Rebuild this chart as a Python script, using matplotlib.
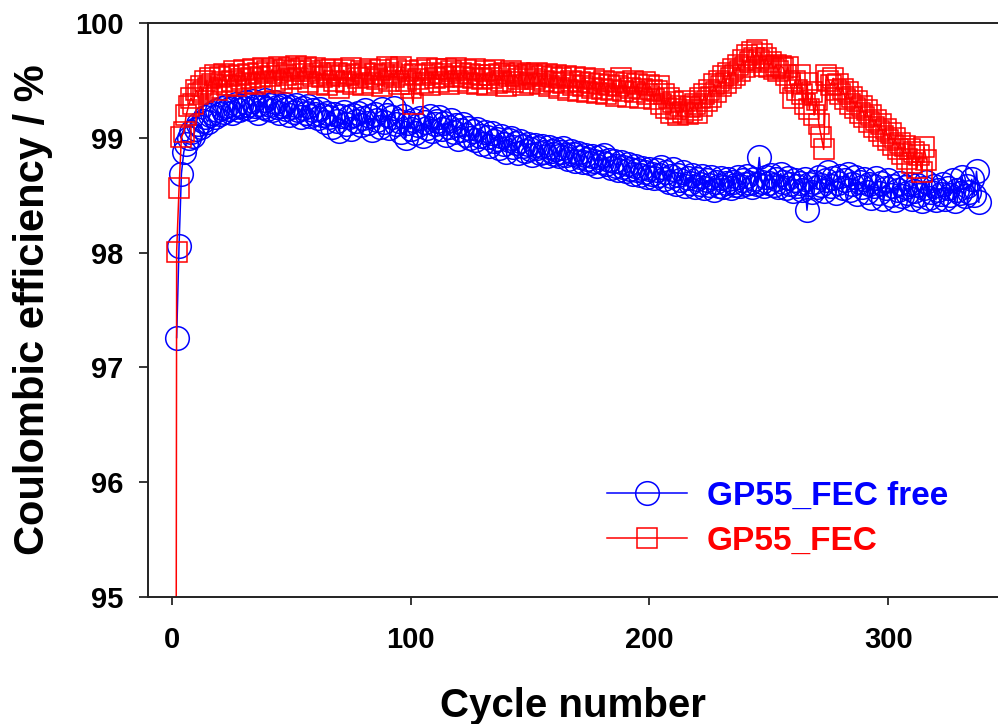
import matplotlib
matplotlib.use("Agg")
import matplotlib.pyplot as plt
import numpy as np

plt.rcParams['font.family'] = ['Liberation Sans', 'DejaVu Sans']
plt.rcParams['font.weight'] = 'bold'

# ---------------- data ----------------
blue_start = 2
blue_ce = [
    97.26, 98.06, 98.69, 98.88, 98.95, 99.00, 99.05, 99.02, 99.08, 99.12,
    99.10, 99.15, 99.18, 99.14, 99.20, 99.22, 99.18, 99.24, 99.21, 99.26,
    99.23, 99.28, 99.25, 99.22, 99.27, 99.30, 99.24, 99.28, 99.26, 99.31,
    99.29, 99.25, 99.32, 99.28, 99.22, 99.30, 99.27, 99.33, 99.25, 99.29,
    99.24, 99.31, 99.27, 99.22, 99.28, 99.30, 99.25, 99.20, 99.27, 99.23,
    99.29, 99.24, 99.18, 99.26, 99.22, 99.28, 99.19, 99.24, 99.21, 99.17,
    99.25, 99.20, 99.14, 99.22, 99.18, 99.10, 99.21, 99.15, 99.06, 99.19,
    99.23, 99.12, 99.18, 99.08, 99.20, 99.15, 99.22, 99.11, 99.17, 99.24,
    99.13, 99.19, 99.07, 99.21, 99.16, 99.10, 99.25, 99.14, 99.20, 99.09,
    99.18, 99.26, 99.12, 99.15, 99.05, 99.19, 99.00, 99.13, 99.08, 99.16,
    99.04, 99.11, 99.17, 99.02, 99.14, 99.09, 99.19, 99.06, 99.12, 99.15,
    99.18, 99.08, 99.13, 99.03, 99.10, 99.16, 99.05, 99.11, 98.99, 99.07,
    99.12, 99.03, 99.09, 99.00, 99.06, 98.98, 99.08, 99.02, 98.95, 99.05,
    99.01, 98.93, 99.04, 98.97, 98.99, 98.91, 99.02, 98.95, 98.88, 98.98,
    99.00, 98.92, 98.96, 98.87, 98.97, 98.93, 98.89, 98.95, 98.90, 98.85,
    98.94, 98.91, 98.87, 98.93, 98.88, 98.84, 98.92, 98.89, 98.86, 98.90,
    98.84, 98.88, 98.91, 98.85, 98.82, 98.89, 98.86, 98.80, 98.87, 98.83,
    98.79, 98.85, 98.82, 98.78, 98.84, 98.80, 98.76, 98.83, 98.79, 98.85,
    98.77, 98.81, 98.74, 98.80, 98.76, 98.72, 98.79, 98.75, 98.71, 98.77,
    98.73, 98.69, 98.76, 98.72, 98.68, 98.74, 98.70, 98.66, 98.73, 98.69,
    98.65, 98.72, 98.68, 98.75, 98.64, 98.70, 98.62, 98.67, 98.73, 98.60,
    98.68, 98.63, 98.70, 98.58, 98.65, 98.61, 98.68, 98.57, 98.64, 98.60,
    98.67, 98.56, 98.63, 98.59, 98.66, 98.55, 98.62, 98.58, 98.65, 98.57,
    98.61, 98.64, 98.56, 98.62, 98.59, 98.66, 98.58, 98.63, 98.60, 98.67,
    98.61, 98.57, 98.64, 98.60, 98.83, 98.62, 98.58, 98.66, 98.61, 98.68,
    98.59, 98.64, 98.57, 98.69, 98.62, 98.56, 98.65, 98.60, 98.54, 98.63,
    98.58, 98.61, 98.55, 98.64, 98.37, 98.60, 98.53, 98.62, 98.57, 98.66,
    98.59, 98.54, 98.63, 98.70, 98.58, 98.65, 98.52, 98.61, 98.67, 98.56,
    98.63, 98.69, 98.55, 98.60, 98.66, 98.51, 98.62, 98.57, 98.64, 98.53,
    98.60, 98.48, 98.58, 98.65, 98.52, 98.61, 98.47, 98.56, 98.63, 98.50,
    98.58, 98.46, 98.55, 98.61, 98.49, 98.57, 98.52, 98.60, 98.47, 98.54,
    98.59, 98.50, 98.45, 98.56, 98.62, 98.48, 98.53, 98.58, 98.46, 98.55,
    98.51, 98.60, 98.47, 98.56, 98.50, 98.63, 98.45, 98.55, 98.52, 98.66,
    98.49, 98.58, 98.53, 98.64, 98.50, 98.71, 98.44,
]

red_start = 1
red_ce = [
    80.00,
    98.01, 98.56, 99.01, 99.05, 99.20, 99.28, 99.35, 99.30, 99.42, 99.38,
    99.45, 99.40, 99.50, 99.44, 99.52, 99.47, 99.55, 99.42, 99.53, 99.49,
    99.56, 99.46, 99.54, 99.50, 99.58, 99.45, 99.55, 99.51, 99.59, 99.48,
    99.56, 99.52, 99.60, 99.47, 99.57, 99.53, 99.61, 99.49, 99.58, 99.54,
    99.60, 99.50, 99.57, 99.62, 99.48, 99.59, 99.55, 99.61, 99.51, 99.58,
    99.63, 99.52, 99.60, 99.56, 99.62, 99.49, 99.58, 99.54, 99.61, 99.47,
    99.57, 99.53, 99.59, 99.46, 99.55, 99.60, 99.50, 99.57, 99.44, 99.54,
    99.59, 99.49, 99.56, 99.61, 99.47, 99.55, 99.52, 99.58, 99.46, 99.57,
    99.53, 99.60, 99.48, 99.56, 99.51, 99.59, 99.45, 99.55, 99.62, 99.50,
    99.57, 99.53, 99.60, 99.47, 99.62, 99.55, 99.50, 99.58, 99.44, 99.30,
    99.56, 99.51, 99.59, 99.48, 99.55, 99.61, 99.46, 99.57, 99.52, 99.60,
    99.49, 99.56, 99.53, 99.60, 99.47, 99.58, 99.54, 99.61, 99.50, 99.57,
    99.53, 99.59, 99.48, 99.56, 99.52, 99.60, 99.47, 99.55, 99.51, 99.58,
    99.46, 99.55, 99.52, 99.59, 99.48, 99.56, 99.50, 99.57, 99.45, 99.54,
    99.58, 99.49, 99.55, 99.51, 99.57, 99.46, 99.53, 99.56, 99.48, 99.55,
    99.51, 99.57, 99.47, 99.54, 99.50, 99.56, 99.45, 99.53, 99.49, 99.55,
    99.44, 99.52, 99.48, 99.54, 99.42, 99.50, 99.46, 99.53, 99.41, 99.49,
    99.45, 99.52, 99.40, 99.48, 99.44, 99.51, 99.39, 99.47, 99.43, 99.50,
    99.38, 99.46, 99.42, 99.49, 99.37, 99.45, 99.52, 99.41, 99.48, 99.36,
    99.44, 99.50, 99.40, 99.47, 99.35, 99.43, 99.49, 99.38, 99.46, 99.42,
    99.34, 99.41, 99.45, 99.30, 99.38, 99.26, 99.35, 99.22, 99.31, 99.25,
    99.20, 99.28, 99.23, 99.32, 99.21, 99.27, 99.24, 99.30, 99.22, 99.35,
    99.28, 99.38, 99.32, 99.42, 99.36, 99.47, 99.40, 99.50, 99.45, 99.54,
    99.48, 99.57, 99.52, 99.60, 99.55, 99.64, 99.58, 99.68, 99.62, 99.72,
    99.66, 99.75, 99.70, 99.77, 99.68, 99.73, 99.63, 99.70, 99.62, 99.66,
    99.60, 99.64, 99.58, 99.63, 99.61, 99.55, 99.62, 99.48, 99.35, 99.50,
    99.42, 99.55, 99.38, 99.30, 99.48, 99.25, 99.40, 99.20, 99.33, 99.12,
    99.01, 98.90, 99.55, 99.50, 99.46, 99.52, 99.42, 99.47, 99.38, 99.43,
    99.34, 99.40, 99.30, 99.36, 99.26, 99.32, 99.22, 99.28, 99.18, 99.24,
    99.14, 99.20, 99.10, 99.16, 99.06, 99.12, 99.02, 99.08, 98.98, 99.04,
    98.94, 99.00, 98.90, 98.96, 98.86, 98.93, 98.82, 98.90, 98.78, 98.88,
    98.74, 98.85, 98.70, 98.92, 98.81,
]

blue_label = "GP55_FEC free"
red_label = "GP55_FEC"
x_ticks = [0, 100, 200, 300]
y_ticks = [95, 96, 97, 98, 99, 100]

blue_cycle = np.arange(blue_start, blue_start + len(blue_ce))
red_cycle = np.arange(red_start, red_start + len(red_ce))

# ---------------- figure ----------------
fig = plt.figure(figsize=(9.98, 7.24), dpi=100)
ax = fig.add_axes([148 / 998, 1 - 596.7 / 724, 1 - 148 / 998, (596.7 - 23.3) / 724])

BLUE = (0, 0, 1)
RED = (1, 0, 0)

ax.plot(blue_cycle, blue_ce, color=BLUE, lw=1.1, marker='o', ms=17,
        mfc='none', mec=BLUE, mew=1.1, label=blue_label)
ax.plot(red_cycle, red_ce, color=RED, lw=1.1, marker='s', ms=14.5,
        mfc='none', mec=RED, mew=1.1, label=red_label)

ax.set_xlim(-10, 346)
ax.set_ylim(95, 100)
ax.set_xticks(x_ticks)
ax.set_yticks(y_ticks)

for side in ['top', 'left', 'bottom']:
    ax.spines[side].set_linewidth(1.4)
    ax.spines[side].set_color('#222222')
ax.spines['right'].set_visible(False)

ax.tick_params(axis='y', direction='out', length=6.5, width=1.1, pad=11,
               labelsize=21)
ax.tick_params(axis='x', direction='out', length=6, width=1.1, pad=15,
               labelsize=21)
for lbl in ax.get_xticklabels() + ax.get_yticklabels():
    lbl.set_fontweight('bold')

ax.set_xlabel("Cycle number", fontsize=29, fontweight='bold', labelpad=24)
ax.set_ylabel("Coulombic efficiency / %", fontsize=30, fontweight='bold', labelpad=16)

leg = ax.legend(loc='upper left', bbox_to_anchor=(607 / 998, 1 - 481 / 724),
                bbox_transform=fig.transFigure, frameon=False,
                prop={'size': 24, 'weight': 'bold'}, handlelength=2.4,
                handletextpad=0.6, labelspacing=0.41, borderpad=0,
                borderaxespad=0)
for txt, col in zip(leg.get_texts(), [BLUE, RED]):
    txt.set_color(col)

fig.savefig("out.png", dpi=100)
